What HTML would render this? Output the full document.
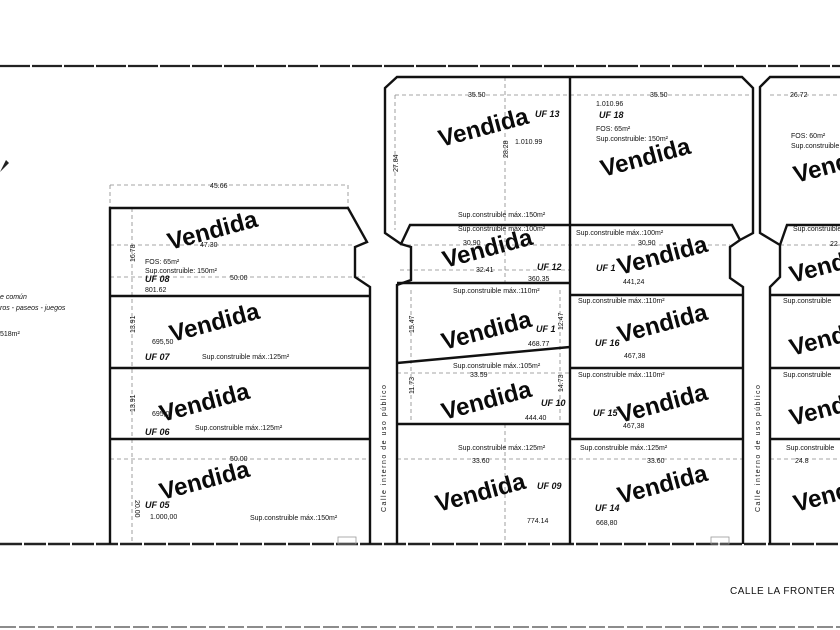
<!DOCTYPE html>
<html><head><meta charset="utf-8"><style>
html,body{margin:0;padding:0;background:#fff;}
svg{display:block;}
text{font-family:"Liberation Sans",Arial,sans-serif;fill:#111;}
.s{font-size:7px;}
.uf{font-size:9px;font-style:italic;font-weight:bold;}
.v{font-size:24px;font-weight:bold;fill:#0a0a0a;}
.d{stroke:#888;stroke-width:0.8;stroke-dasharray:4 3;fill:none;}
.L{stroke:#111;stroke-width:2.4;fill:none;stroke-linejoin:miter;}
</style></head><body>
<svg width="840" height="630" viewBox="0 0 840 630" xmlns="http://www.w3.org/2000/svg">
<rect width="840" height="630" fill="#fff"/>
<!-- borders -->
<line x1="0" y1="66" x2="840" y2="66" stroke="#222" stroke-width="2.2" stroke-dasharray="30 2"/>
<line x1="0" y1="544" x2="840" y2="544" stroke="#222" stroke-width="2.4" stroke-dasharray="22 2"/>
<line x1="0" y1="627" x2="840" y2="627" stroke="#666" stroke-width="1.4" stroke-dasharray="16 3"/>

<!-- dims -->
<g class="d">
<line x1="110" y1="185" x2="348" y2="185"/>
<line x1="110" y1="185" x2="110" y2="208"/><line x1="348" y1="185" x2="348" y2="208"/>
<line x1="132" y1="208" x2="132" y2="544"/>
<line x1="110" y1="245" x2="355" y2="245"/>
<line x1="110" y1="277" x2="365" y2="277"/>
<line x1="110" y1="459" x2="370" y2="459"/>
<line x1="395" y1="95" x2="752" y2="95"/>
<line x1="395" y1="95" x2="395" y2="230"/>
<line x1="505" y1="77" x2="505" y2="283"/>
<line x1="400" y1="245" x2="730" y2="245"/>
<line x1="400" y1="270" x2="570" y2="270"/>
<line x1="411" y1="290" x2="411" y2="424"/>
<line x1="560" y1="290" x2="560" y2="424"/>
<line x1="397" y1="373" x2="570" y2="373"/>
<line x1="397" y1="459" x2="745" y2="459"/>
<line x1="505" y1="424" x2="505" y2="544"/>
<line x1="770" y1="95" x2="840" y2="95"/>
<line x1="780" y1="245" x2="840" y2="245"/>
<line x1="770" y1="459" x2="840" y2="459"/>
</g>

<!-- block 1 -->
<g class="L">
<polyline points="110,544 110,208 348,208 367,242 355,247 355,277 370,287 370,544"/>
<line x1="110" y1="296" x2="370" y2="296"/>
<line x1="110" y1="368" x2="370" y2="368"/>
<line x1="110" y1="439" x2="370" y2="439"/>
<!-- middle group outline -->
<polyline points="397,544 397,285 411,280 411,247 401,244 385,233 385,88 397,77 742,77 753,88 753,233 740,240 730,247 730,278 743,287 743,544"/>
<polyline points="401,244 410,225 732,225 740,240"/>
<line x1="570" y1="77" x2="570" y2="544"/>
<line x1="397" y1="283" x2="570" y2="283"/>
<line x1="570" y1="295" x2="743" y2="295"/>
<line x1="397" y1="363" x2="570" y2="347"/>
<line x1="397" y1="424" x2="570" y2="424"/>
<line x1="570" y1="368" x2="743" y2="368"/>
<line x1="570" y1="439" x2="743" y2="439"/>
<!-- right block -->
<polyline points="840,77 770,77 760,87 760,233 780,245 780,277 770,287 770,544"/>
<polyline points="780,245 787,225 840,225"/>
<line x1="770" y1="295" x2="840" y2="295"/>
<line x1="770" y1="368" x2="840" y2="368"/>
<line x1="770" y1="439" x2="840" y2="439"/>
</g>
<rect x="338" y="537" width="18" height="7" fill="none" stroke="#999" stroke-width="0.8"/>
<rect x="711" y="537" width="18" height="7" fill="none" stroke="#999" stroke-width="0.8"/>

<!-- north arrow stub -->
<path d="M0,172 L6,160 L9,163 Z" fill="#222"/>

<!-- legend -->
<text class="s" x="0" y="299" font-style="italic">e común</text>
<text class="s" x="0" y="310" font-style="italic">ros - paseos - juegos</text>
<text class="s" x="0" y="336">518m²</text>

<!-- road labels -->
<text class="s" transform="translate(386,512) rotate(-90)" letter-spacing="1.5">Calle interno de uso público</text>
<text class="s" transform="translate(760,512) rotate(-90)" letter-spacing="1.5">Calle interno de uso público</text>
<text x="730" y="594" font-size="10" letter-spacing="0.5">CALLE LA FRONTER</text>

<!-- block 1 texts -->
<text class="s" x="210" y="188">45.66</text>
<text class="s" transform="translate(135,262) rotate(-90)">16.78</text>
<text class="s" x="200" y="247">47.30</text>
<text class="s" x="145" y="264">FOS: 65m²</text>
<text class="s" x="145" y="273">Sup.construible: 150m²</text>
<text class="uf" x="145" y="282">UF 08</text>
<text class="s" x="230" y="280">50.00</text>
<text class="s" x="145" y="292">801.62</text>
<text class="s" transform="translate(135,333) rotate(-90)">13.91</text>
<text class="s" x="152" y="344">695,50</text>
<text class="uf" x="145" y="360">UF 07</text>
<text class="s" x="202" y="359">Sup.construible máx.:125m²</text>
<text class="s" transform="translate(135,412) rotate(-90)">13.91</text>
<text class="s" x="152" y="416">695,0</text>
<text class="uf" x="145" y="435">UF 06</text>
<text class="s" x="195" y="430">Sup.construible máx.:125m²</text>
<text class="s" x="230" y="461">50.00</text>
<text class="s" transform="translate(135,500) rotate(90)">20.00</text>
<text class="uf" x="145" y="508">UF 05</text>
<text class="s" x="150" y="519">1.000,00</text>
<text class="s" x="250" y="520">Sup.construible máx.:150m²</text>

<!-- middle texts -->
<text class="s" x="468" y="97">35.50</text>
<text class="uf" x="535" y="117">UF 13</text>
<text class="s" x="515" y="144">1.010.99</text>
<text class="s" transform="translate(508,158) rotate(-90)">28.28</text>
<text class="s" transform="translate(398,172) rotate(-90)">27.84</text>
<text class="s" x="458" y="217">Sup.construible máx.:150m²</text>
<text class="s" x="458" y="231">Sup.construible máx.:100m²</text>
<text class="s" x="463" y="245">30.90</text>
<text class="s" x="476" y="272">32.41</text>
<text class="uf" x="537" y="270">UF 12</text>
<text class="s" x="528" y="281">360.35</text>
<text class="s" x="453" y="293">Sup.construible máx.:110m²</text>
<text class="s" transform="translate(414,333) rotate(-90)">15.47</text>
<text class="uf" x="536" y="332">UF 1</text>
<text class="s" transform="translate(563,330) rotate(-90)">12.47</text>
<text class="s" x="528" y="346">468.77</text>
<text class="s" x="453" y="368">Sup.construible máx.:105m²</text>
<text class="s" x="470" y="377">33.59</text>
<text class="s" transform="translate(414,394) rotate(-90)">11.73</text>
<text class="s" transform="translate(563,392) rotate(-90)">14.73</text>
<text class="uf" x="541" y="406">UF 10</text>
<text class="s" x="525" y="420">444.40</text>
<text class="s" x="458" y="450">Sup.construible máx.:125m²</text>
<text class="s" x="472" y="463">33.60</text>
<text class="uf" x="537" y="489">UF 09</text>
<text class="s" x="527" y="523">774.14</text>

<text class="s" x="650" y="97">35.50</text>
<text class="s" x="596" y="106">1.010.96</text>
<text class="uf" x="599" y="118">UF 18</text>
<text class="s" x="596" y="131">FOS: 65m²</text>
<text class="s" x="596" y="141">Sup.construible: 150m²</text>
<text class="s" x="576" y="235">Sup.construible máx.:100m²</text>
<text class="s" x="638" y="245">30.90</text>
<text class="uf" x="596" y="271">UF 1</text>
<text class="s" x="623" y="284">441,24</text>
<text class="s" x="578" y="303">Sup.construible máx.:110m²</text>
<text class="uf" x="595" y="346">UF 16</text>
<text class="s" x="624" y="358">467,38</text>
<text class="s" x="578" y="377">Sup.construible máx.:110m²</text>
<text class="uf" x="593" y="416">UF 15</text>
<text class="s" x="623" y="428">467,38</text>
<text class="s" x="580" y="450">Sup.construible máx.:125m²</text>
<text class="s" x="647" y="463">33.60</text>
<text class="uf" x="595" y="511">UF 14</text>
<text class="s" x="596" y="525">668,80</text>

<text class="s" x="790" y="97">26.72</text>
<text class="s" x="791" y="138">FOS: 60m²</text>
<text class="s" x="791" y="148">Sup.construible</text>
<text class="s" x="793" y="231">Sup.construible</text>
<text class="s" x="830" y="246">22</text>
<text class="s" x="783" y="303">Sup.construible</text>
<text class="s" x="783" y="377">Sup.construible</text>
<text class="s" x="786" y="450">Sup.construible</text>
<text class="s" x="795" y="463">24.8</text>

<!-- Vendida -->
<g class="v">
<text transform="translate(170,250) rotate(-15)" class="v">Vendida</text>
<text transform="translate(172,342) rotate(-15)" class="v">Vendida</text>
<text transform="translate(162,422) rotate(-15)" class="v">Vendida</text>
<text transform="translate(162,500) rotate(-15)" class="v">Vendida</text>
<text transform="translate(441,147) rotate(-15)" class="v">Vendida</text>
<text transform="translate(603,177) rotate(-15)" class="v">Vendida</text>
<text transform="translate(445,268) rotate(-15)" class="v">Vendida</text>
<text transform="translate(620,275) rotate(-15)" class="v">Vendida</text>
<text transform="translate(444,350) rotate(-15)" class="v">Vendida</text>
<text transform="translate(620,343) rotate(-15)" class="v">Vendida</text>
<text transform="translate(444,420) rotate(-15)" class="v">Vendida</text>
<text transform="translate(620,423) rotate(-15)" class="v">Vendida</text>
<text transform="translate(438,512) rotate(-15)" class="v">Vendida</text>
<text transform="translate(620,504) rotate(-15)" class="v">Vendida</text>
<text transform="translate(796,183) rotate(-15)" class="v">Vendida</text>
<text transform="translate(792,283) rotate(-15)" class="v">Vendida</text>
<text transform="translate(792,356) rotate(-15)" class="v">Vendida</text>
<text transform="translate(792,426) rotate(-15)" class="v">Vendida</text>
<text transform="translate(796,512) rotate(-15)" class="v">Vendida</text>
</g>
</svg>
</body></html>
